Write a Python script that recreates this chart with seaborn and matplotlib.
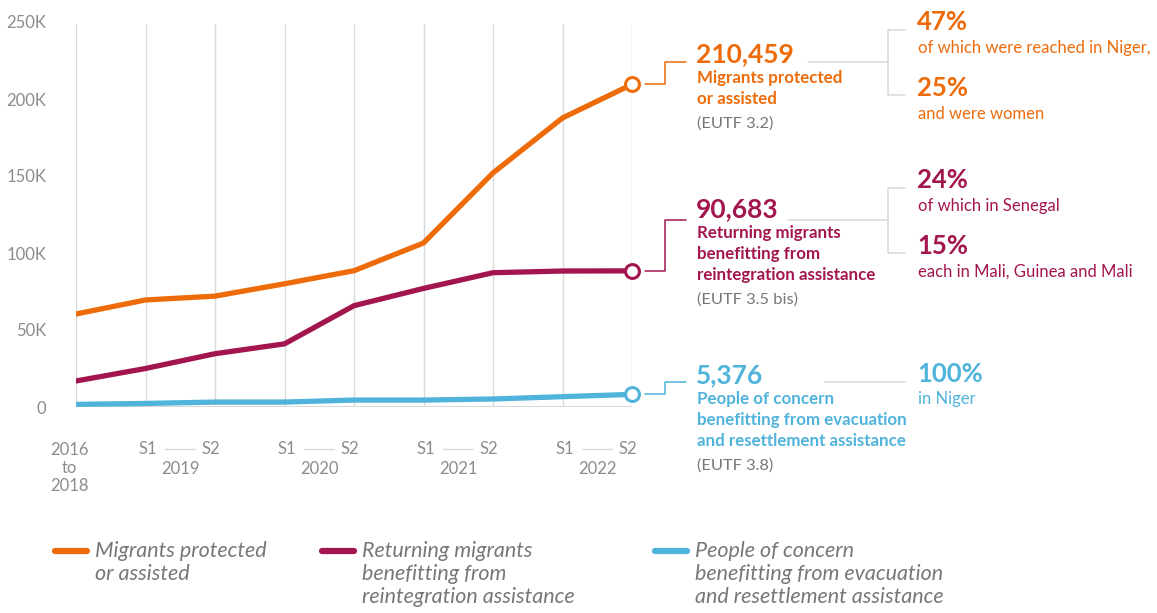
import matplotlib
matplotlib.use("Agg")
import matplotlib.pyplot as plt
import matplotlib.transforms as mtransforms
from matplotlib.lines import Line2D
import pandas as pd
import seaborn as sns

# values (number of people, cumulative)
periods = ["2016-2018", "2019 S1", "2019 S2", "2020 S1", "2020 S2",
           "2021 S1", "2021 S2", "2022 S1", "2022 S2"]
migrants_protected = [60400, 69500, 72000, 80000, 88500, 106500, 152000, 187700, 209500]
returning_migrants = [16900, 25000, 34600, 41000, 65800, 77000, 87200, 88300, 88400]
people_of_concern = [1700, 2300, 3200, 3200, 4500, 4500, 5200, 6700, 8200]

series_names = ["Migrants protected or assisted",
                "Returning migrants benefitting from reintegration assistance",
                "People of concern benefitting from evacuation and resettlement assistance"]
legend_labels = ["Migrants protected\nor assisted",
                 "Returning migrants\nbenefitting from\nreintegration assistance",
                 "People of concern\nbenefitting from evacuation\nand resettlement assistance"]
colors = ["#EE6B0A", "#A3154F", "#4FB3DB"]

y_ticks = [0, 50000, 100000, 150000, 200000, 250000]
y_labels = ["0", "50K", "100K", "150K", "200K", "250K"]

totals = ["210,459", "90,683", "5,376"]
total_desc = ["Migrants protected\nor assisted",
              "Returning migrants\nbenefitting from\nreintegration assistance",
              "People of concern\nbenefitting from evacuation\nand resettlement assistance"]
codes = ["(EUTF 3.2)", "(EUTF 3.5 bis)", "(EUTF 3.8)"]
shares = [[("47%", "of which were reached in Niger,"), ("25%", "and were women")],
          [("24%", "of which in Senegal"), ("15%", "each in Mali, Guinea and Mali")],
          [("100%", "in Niger")]]

W, H = 1157, 613
GREY = "#8c8c8c"
GRID = "#d9d9d9"

sns.set_style("white")
plt.rcParams["font.family"] = ["Lato", "DejaVu Sans"]

df = pd.DataFrame({
    "x": list(range(len(periods))) * 3,
    "value": migrants_protected + returning_migrants + people_of_concern,
    "series": sum([[s] * len(periods) for s in series_names], []),
})

fig = plt.figure(figsize=(W / 100, H / 100), dpi=100)
ax = fig.add_axes([76 / W, 1 - 407 / H, (632 - 76) / W, (407 - 22) / H])

def fx(x):
    return x / W

def fy(y):
    return 1 - y / H

for i in range(len(periods)):
    ax.axvline(i, ymax=(250000 - 1500) / 250000, color=GRID, lw=1, zorder=0)
ax.axhline(0, color=GRID, lw=1.5, zorder=0)

sns.lineplot(data=df, x="x", y="value", hue="series", palette=colors,
             linewidth=3.8, legend=False, ax=ax, solid_capstyle="round",
             solid_joinstyle="round", zorder=3)

ax.set_xlim(0, len(periods) - 1)
ax.set_ylim(0, 250000)
ax.set_yticks(y_ticks)
ax.set_yticklabels(y_labels)
ax.tick_params(axis="y", length=0, pad=21.5, labelsize=12, labelcolor=GREY)
ax.set_xticks([])
ax.set_xlabel("")
ax.set_ylabel("")
for sp in ax.spines.values():
    sp.set_visible(False)

# x labels
bt = mtransforms.blended_transform_factory(ax.transData, fig.transFigure)
ax.text(-0.09, fy(468), "2016\nto\n2018", transform=bt, ha="center", va="center",
        fontsize=12, color=GREY, linespacing=1.12)
for k, year in enumerate(["2019", "2020", "2021", "2022"]):
    s1 = 1 + 2 * k
    ax.text(s1 + 0.04, fy(449), "S1", transform=bt, ha="center", va="center",
            fontsize=12, color=GREY)
    ax.text(s1 + 0.94, fy(449), "S2", transform=bt, ha="center", va="center",
            fontsize=12, color=GREY)
    ax.text(s1 + 0.5, fy(469), year, transform=bt, ha="center", va="center",
            fontsize=12, color=GREY)
    ax.add_line(Line2D([s1 + 0.28, s1 + 0.71], [fy(449), fy(449)], transform=bt,
                       color=GRID, lw=1, clip_on=False))

fig.canvas.draw()

# end markers and callouts
last = [migrants_protected[-1], returning_migrants[-1], people_of_concern[-1]]
num_y = [62, 220, 382]
text_top = [54, 209, 375]
gap_start = [808, 788, 825]
for i in range(3):
    ax.plot(len(periods) - 1, last[i], marker="o", ms=10, mfc="white",
            mec=colors[i], mew=2.2, clip_on=False, zorder=5)
    px, py = ax.transData.transform((len(periods) - 1, last[i]))
    cy = H - py
    fig.add_artist(Line2D([fx(645), fx(665), fx(665), fx(686)],
                          [fy(cy), fy(cy), fy(num_y[i]), fy(num_y[i])],
                          color=colors[i], lw=1.1))
    t0 = text_top[i]
    fig.text(fx(696), fy(t0), totals[i], ha="left", va="center", fontsize=19,
             fontweight="bold", color=colors[i])
    nlines = total_desc[i].count("\n") + 1
    for j, line in enumerate(total_desc[i].split("\n")):
        fig.text(fx(697), fy(t0 + 24 + 21 * j), line, ha="left", va="center",
                 fontsize=12.2, fontweight="bold", color=colors[i])
    fig.text(fx(697), fy(t0 + 24 + 21 * nlines + 4), codes[i], ha="left",
             va="center", fontsize=11.8, color="#777777")

    if len(shares[i]) == 2:
        top_y = num_y[i] - 32
        bot_y = num_y[i] + 33
        fig.add_artist(Line2D([fx(gap_start[i]), fx(888)], [fy(num_y[i])] * 2,
                              color=GRID, lw=1.1))
        fig.add_artist(Line2D([fx(905), fx(888), fx(888), fx(905)],
                              [fy(top_y), fy(top_y), fy(bot_y), fy(bot_y)],
                              color=GRID, lw=1.1))
        for j, (pct, txt) in enumerate(shares[i]):
            yy = top_y - 8 + 66 * j
            fig.text(fx(917), fy(yy), pct, ha="left", va="center", fontsize=18.5,
                     fontweight="bold", color=colors[i])
            fig.text(fx(918), fy(yy + 26), txt, ha="left", va="center",
                     fontsize=12, color=colors[i])
    else:
        fig.add_artist(Line2D([fx(gap_start[i]), fx(905)], [fy(num_y[i])] * 2,
                              color=GRID, lw=1.1))
        pct, txt = shares[i][0]
        fig.text(fx(917), fy(374), pct, ha="left", va="center", fontsize=18.5,
                 fontweight="bold", color=colors[i])
        fig.text(fx(918), fy(399), txt, ha="left", va="center", fontsize=12,
                 color=colors[i])

# legend
leg_x = [55, 322, 655]
for i in range(3):
    fig.add_artist(Line2D([fx(leg_x[i]), fx(leg_x[i] + 32)], [fy(551), fy(551)],
                          color=colors[i], lw=4.5, solid_capstyle="round"))
    fig.text(fx(leg_x[i] + 40), fy(541), legend_labels[i], ha="left", va="top",
             fontsize=15.5, style="italic", color="#777777", linespacing=1.2)

fig.savefig("out.png", dpi=100)
